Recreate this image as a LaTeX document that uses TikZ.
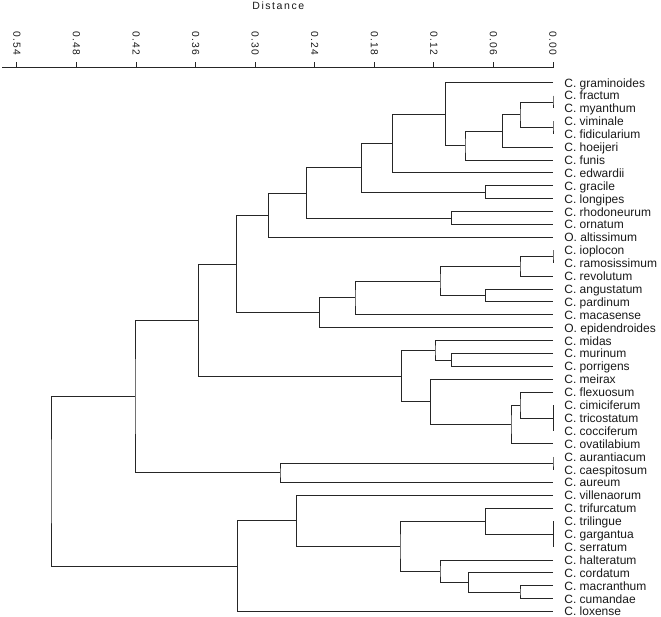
\documentclass[tikz,border=0pt]{standalone}
\usepackage{fontspec}
\setmainfont{Liberation Sans}

\begin{document}
\begin{tikzpicture}[
    x=1pt, y=-1pt,
    every node/.style={text=black!90},
    leaf/.style={anchor=west, inner xsep=11.2pt, inner ysep=0pt,
                 text height=8.7pt, text depth=0pt,
                 font=\fontsize{12}{14}\selectfont},
    axlab/.style={rotate=-90, anchor=east, inner sep=0pt,
                  font=\fontsize{10.3}{12}\selectfont\addfontfeature{LetterSpace=9}},
    branch/.style={line width=1pt, draw=black!85}
]
\useasboundingbox (0,0) rectangle (661,617);

\node[anchor=base, inner sep=0pt,
      font=\fontsize{10.5}{12}\selectfont\addfontfeature{LetterSpace=15}]
      (dist) at (278.3,10) {Distance};
\coordinate (axl) at (2,68);
\coordinate (axr) at (553.5,68);
\draw[branch] (axl) -- (axr);
\coordinate (t0) at (553,68);
\coordinate (t1) at (493.44,68);
\coordinate (t2) at (433.88,68);
\coordinate (t3) at (374.32,68);
\coordinate (t4) at (314.76,68);
\coordinate (t5) at (255.2,68);
\coordinate (t6) at (195.64,68);
\coordinate (t7) at (136.08,68);
\coordinate (t8) at (76.52,68);
\coordinate (t9) at (16.96,68);
\draw[branch] (t0) -- ++(0,-6);
\draw[branch] (t1) -- ++(0,-6);
\draw[branch] (t2) -- ++(0,-6);
\draw[branch] (t3) -- ++(0,-6);
\draw[branch] (t4) -- ++(0,-6);
\draw[branch] (t5) -- ++(0,-6);
\draw[branch] (t6) -- ++(0,-6);
\draw[branch] (t7) -- ++(0,-6);
\draw[branch] (t8) -- ++(0,-6);
\draw[branch] (t9) -- ++(0,-6);
\node[axlab] (lab0) at ([yshift=13pt]t0) {0.00};
\node[axlab] (lab1) at ([yshift=13pt]t1) {0.06};
\node[axlab] (lab2) at ([yshift=13pt]t2) {0.12};
\node[axlab] (lab3) at ([yshift=13pt]t3) {0.18};
\node[axlab] (lab4) at ([yshift=13pt]t4) {0.24};
\node[axlab] (lab5) at ([yshift=13pt]t5) {0.30};
\node[axlab] (lab6) at ([yshift=13pt]t6) {0.36};
\node[axlab] (lab7) at ([yshift=13pt]t7) {0.42};
\node[axlab] (lab8) at ([yshift=13pt]t8) {0.48};
\node[axlab] (lab9) at ([yshift=13pt]t9) {0.54};

\node[leaf] (graminoides)   at (553,82.7)  {C. graminoides};
\node[leaf] (fractum)       at (553,95.6)  {C. fractum};
\node[leaf] (myanthum)      at (553,108.5) {C. myanthum};
\node[leaf] (viminale)      at (553,121.4) {C. viminale};
\node[leaf] (fidicularium)  at (553,134.3) {C. fidicularium};
\node[leaf] (hoeijeri)      at (553,147.2) {C. hoeijeri};
\node[leaf] (funis)         at (553,160.1) {C. funis};
\node[leaf] (edwardii)      at (553,173.0) {C. edwardii};
\node[leaf] (gracile)       at (553,185.9) {C. gracile};
\node[leaf] (longipes)      at (553,198.8) {C. longipes};
\node[leaf] (rhodoneurum)   at (553,211.7) {C. rhodoneurum};
\node[leaf] (ornatum)       at (553,224.6) {C. ornatum};
\node[leaf] (altissimum)    at (553,237.5) {O. altissimum};
\node[leaf] (ioplocon)      at (553,250.4) {C. ioplocon};
\node[leaf] (ramosissimum)  at (553,263.3) {C. ramosissimum};
\node[leaf] (revolutum)     at (553,276.2) {C. revolutum};
\node[leaf] (angustatum)    at (553,289.1) {C. angustatum};
\node[leaf] (pardinum)      at (553,302.0) {C. pardinum};
\node[leaf] (macasense)     at (553,314.9) {C. macasense};
\node[leaf] (epidendroides) at (553,327.8) {O. epidendroides};
\node[leaf] (midas)         at (553,340.7) {C. midas};
\node[leaf] (murinum)       at (553,353.6) {C. murinum};
\node[leaf] (porrigens)     at (553,366.5) {C. porrigens};
\node[leaf] (meirax)        at (553,379.4) {C. meirax};
\node[leaf] (flexuosum)     at (553,392.3) {C. flexuosum};
\node[leaf] (cimiciferum)   at (553,405.2) {C. cimiciferum};
\node[leaf] (tricostatum)   at (553,418.1) {C. tricostatum};
\node[leaf] (cocciferum)    at (553,431.0) {C. cocciferum};
\node[leaf] (ovatilabium)   at (553,443.9) {C. ovatilabium};
\node[leaf] (aurantiacum)   at (553,456.8) {C. aurantiacum};
\node[leaf] (caespitosum)   at (553,469.7) {C. caespitosum};
\node[leaf] (aureum)        at (553,482.6) {C. aureum};
\node[leaf] (villenaorum)   at (553,495.5) {C. villenaorum};
\node[leaf] (trifurcatum)   at (553,508.4) {C. trifurcatum};
\node[leaf] (trilingue)     at (553,521.3) {C. trilingue};
\node[leaf] (gargantua)     at (553,534.2) {C. gargantua};
\node[leaf] (serratum)      at (553,547.1) {C. serratum};
\node[leaf] (halteratum)    at (553,560.0) {C. halteratum};
\node[leaf] (cordatum)      at (553,572.9) {C. cordatum};
\node[leaf] (macranthum)    at (553,585.8) {C. macranthum};
\node[leaf] (cumandae)      at (553,598.7) {C. cumandae};
\node[leaf] (loxense)       at (553,611.3) {C. loxense};

\coordinate (a1)  at (553,102.05);
\coordinate (a2)  at (553,127.85);
\coordinate (a3)  at (520,114.95);
\coordinate (a4)  at (502.7,131.08);
\coordinate (a5)  at (465,145.59);
\coordinate (a6)  at (445.7,114.15);
\coordinate (a7)  at (392.7,143.57);
\coordinate (a8)  at (485.7,192.35);
\coordinate (a9)  at (361.7,167.96);
\coordinate (a10) at (451.7,218.15);
\coordinate (a11) at (306.7,193.06);
\coordinate (a12) at (268.3,215.28);
\coordinate (b1)  at (553,256.85);
\coordinate (b2)  at (520,266.53);
\coordinate (b3)  at (485.7,295.55);
\coordinate (b4)  at (440,281.04);
\coordinate (b5)  at (355,297.97);
\coordinate (b6)  at (319.3,312.89);
\coordinate (b7)  at (236.7,264.08);
\coordinate (c1)  at (451.7,360.05);
\coordinate (c2)  at (435,350.38);
\coordinate (c3)  at (553,418.1);
\coordinate (c4)  at (520,405.2);
\coordinate (c5)  at (511,424.55);
\coordinate (c6)  at (430.7,401.98);
\coordinate (c7)  at (401.7,376.18);
\coordinate (c8)  at (198.3,320.13);
\coordinate (d1)  at (553,463.25);
\coordinate (d2)  at (280,472.93);
\coordinate (d3)  at (135,396.53);
\coordinate (e1)  at (553,534.2);
\coordinate (e2)  at (485.7,521.3);
\coordinate (e3)  at (520,592.25);
\coordinate (e4)  at (468.3,582.58);
\coordinate (e5)  at (440,571.29);
\coordinate (e6)  at (400,546.3);
\coordinate (e7)  at (296.7,520.9);
\coordinate (e8)  at (237.7,566.1);
\coordinate (root) at (51,481.3);

\draw[branch] (fractum.west) -| (a1) |- (myanthum.west);
\draw[branch] (viminale.west) -| (a2) |- (fidicularium.west);
\draw[branch] (a1) -| (a3) |- (a2);
\draw[branch] (a3) -| (a4) |- (hoeijeri.west);
\draw[branch] (a4) -| (a5) |- (funis.west);
\draw[branch] (graminoides.west) -| (a6) |- (a5);
\draw[branch] (a6) -| (a7) |- (edwardii.west);
\draw[branch] (gracile.west) -| (a8) |- (longipes.west);
\draw[branch] (a7) -| (a9) |- (a8);
\draw[branch] (rhodoneurum.west) -| (a10) |- (ornatum.west);
\draw[branch] (a9) -| (a11) |- (a10);
\draw[branch] (a11) -| (a12) |- (altissimum.west);
\draw[branch] (ioplocon.west) -| (b1) |- (ramosissimum.west);
\draw[branch] (b1) -| (b2) |- (revolutum.west);
\draw[branch] (angustatum.west) -| (b3) |- (pardinum.west);
\draw[branch] (b2) -| (b4) |- (b3);
\draw[branch] (b4) -| (b5) |- (macasense.west);
\draw[branch] (b5) -| (b6) |- (epidendroides.west);
\draw[branch] (a12) -| (b7) |- (b6);
\draw[branch] (murinum.west) -| (c1) |- (porrigens.west);
\draw[branch] (midas.west) -| (c2) |- (c1);
\draw[branch] (cimiciferum.west) -- (cocciferum.west);
\draw[branch] (flexuosum.west) -| (c4) |- (c3);
\draw[branch] (c4) -| (c5) |- (ovatilabium.west);
\draw[branch] (meirax.west) -| (c6) |- (c5);
\draw[branch] (c2) -| (c7) |- (c6);
\draw[branch] (b7) -| (c8) |- (c7);
\draw[branch] (aurantiacum.west) -| (d1) |- (caespitosum.west);
\draw[branch] (d1) -| (d2) |- (aureum.west);
\draw[branch] (c8) -| (d3) |- (d2);
\draw[branch] (trilingue.west) -- (serratum.west);
\draw[branch] (trifurcatum.west) -| (e2) |- (e1);
\draw[branch] (macranthum.west) -| (e3) |- (cumandae.west);
\draw[branch] (cordatum.west) -| (e4) |- (e3);
\draw[branch] (halteratum.west) -| (e5) |- (e4);
\draw[branch] (e2) -| (e6) |- (e5);
\draw[branch] (villenaorum.west) -| (e7) |- (e6);
\draw[branch] (e7) -| (e8) |- (loxense.west);
\draw[branch] (d3) -| (root) |- (e8);
\end{tikzpicture}
\end{document}
